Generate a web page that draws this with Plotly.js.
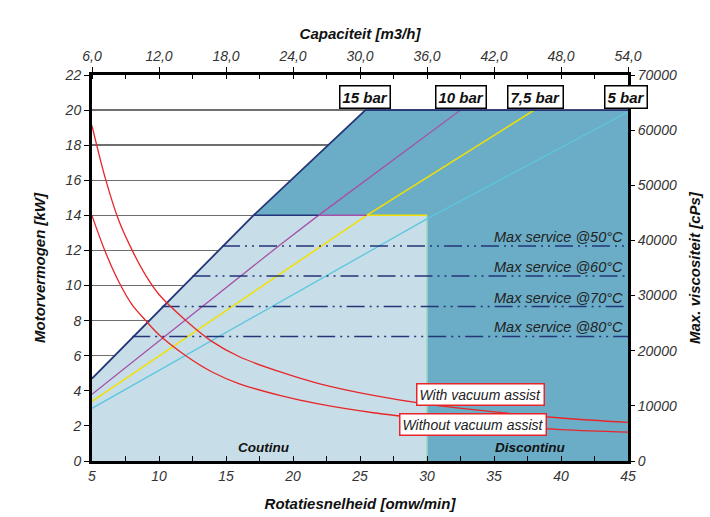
<!DOCTYPE html>
<html>
<head>
<meta charset="utf-8">
<script src="https://cdn.plot.ly/plotly-3.0.1.min.js"></script>
<style>html,body{margin:0;padding:0;background:#fff;}#chart{width:710px;height:517px;}</style>
</head>
<body>
<div id="chart"></div>
<script>
// Pressure lines (rotatiesnelheid [omw/min] vs motorvermogen [kW])
const bar15X = [5, 17.05, 25.4, 45];
const bar15Y = [4.7, 14, 20, 20];
const bar10X = [5, 19, 21.9, 32.5, 45];
const bar10Y = [3.8, 12.3, 14, 20, 20];
const bar75X = [5, 25.5, 38, 45];
const bar75Y = [3.4, 14, 20, 20];
const bar5X = [5, 30, 45];
const bar5Y = [3.0, 13.8, 19.9];

// Continuous power cap (14 kW) segments
const cap15X = [17.05, 21.9];
const cap10X = [21.9, 25.5];
const cap75X = [25.5, 30];
const capY = [14, 14];

// Regions
const contX = [5, 5, 17.05, 30, 30];
const contY = [0, 4.7, 14, 14, 0];
const discX = [17.05, 25.4, 45, 45, 30, 30];
const discY = [14, 20, 20, 0, 0, 14];
const borderX = [30, 30];
const borderY = [0, 14];

// Max service lines
const serviceLabels = ["Max service @50°C", "Max service @60°C", "Max service @70°C", "Max service @80°C"];
const serviceY = [12.25, 10.55, 8.8, 7.1];
const serviceStartX = [14.7, 12.5, 10.2, 8.0];
const serviceEndX = 45;

// Viscosity curves [cPs]
const viscX = [5, 6, 7, 8, 9, 10, 12, 14, 16, 19, 22, 26, 30, 35, 40, 45];
const withVacuum = [60800, 51200, 43600, 38200, 33700, 30200, 25500, 21600, 18900, 16200, 14000, 11900, 10300, 8900, 7800, 7000];
const withoutVacuum = [44500, 37900, 32500, 28300, 25500, 22900, 19100, 16100, 14000, 11900, 10300, 8750, 7650, 6500, 5700, 5250];

// Labels
const barLabels = ["15 bar", "10 bar", "7,5 bar", "5 bar"];
const barLabelX = [25.4, 32.5, 38.1, 44.85];
const capacityRange = [6, 54];

const FONT = "Liberation Sans, Arial, sans-serif";
const navy = "#243578", purple = "#a651a8", yellow = "#f2e000", cyan = "#5cc6df", red = "#e8262a";

const traces = [
  {x: contX, y: contY, fill: "toself", fillcolor: "#c7dee8", mode: "lines", line: {width: 0}, hoverinfo: "skip"},
  {x: discX, y: discY, fill: "toself", fillcolor: "#6badc7", mode: "lines", line: {width: 0}, hoverinfo: "skip"},
  {x: borderX, y: borderY, mode: "lines", line: {color: "#9fd6bd", width: 1.5}},
  {x: bar5X, y: bar5Y, mode: "lines", line: {color: cyan, width: 1.3}},
  {x: bar75X, y: bar75Y, mode: "lines", line: {color: yellow, width: 1.5}},
  {x: bar10X, y: bar10Y, mode: "lines", line: {color: purple, width: 1.3}},
  {x: cap75X, y: capY, mode: "lines", line: {color: yellow, width: 1.5}},
  {x: cap10X, y: capY, mode: "lines", line: {color: purple, width: 1.5}},
  {x: cap15X, y: capY, mode: "lines", line: {color: navy, width: 1.5}},
  {x: bar15X, y: bar15Y, mode: "lines", line: {color: navy, width: 1.8}},
];
serviceY.forEach((v, i) => {
  traces.push({x: [serviceStartX[i], serviceEndX], y: [v, v], mode: "lines",
    line: {color: navy, width: 1.5, dash: "18px,5px,2px,5px,2px,5px"}});
});
traces.push({x: viscX, y: withVacuum, yaxis: "y2", mode: "lines", line: {color: red, width: 1.3, shape: "spline"}});
traces.push({x: viscX, y: withoutVacuum, yaxis: "y2", mode: "lines", line: {color: red, width: 1.3, shape: "spline"}});
traces.push({x: capacityRange, y: [null, null], xaxis: "x2", mode: "lines", hoverinfo: "skip"});

const tickFont = {family: FONT, size: 14, color: "#333", style: "italic"};
const titleFont = {family: FONT, size: 15, color: "#111", style: "italic", weight: "bold"};

const annotations = [];
barLabels.forEach((t, i) => annotations.push({
  x: barLabelX[i], y: 20.75, xref: "x", yref: "y", text: t, showarrow: false,
  font: {family: FONT, size: 15, color: "#111", style: "italic", weight: "bold"},
  bgcolor: "#fff", bordercolor: "#000", borderwidth: 1.5, borderpad: 2
}));
serviceLabels.forEach((t, i) => annotations.push({
  x: 44.8, y: serviceY[i], xref: "x", yref: "y", text: t, showarrow: false,
  xanchor: "right", yanchor: "bottom", yshift: -1,
  font: {family: FONT, size: 14.5, color: "#222", style: "italic"}
}));
annotations.push({x: 33.96, y: 3.8, xref: "x", yref: "y", text: "With vacuum assist", showarrow: false,
  font: {family: FONT, size: 14, color: "#222", style: "italic"}, bgcolor: "#fff", bordercolor: red, borderwidth: 1.5, borderpad: 2});
annotations.push({x: 33.4, y: 2.1, xref: "x", yref: "y", text: "Without vacuum assist", showarrow: false,
  font: {family: FONT, size: 14, color: "#222", style: "italic"}, bgcolor: "#fff", bordercolor: red, borderwidth: 1.5, borderpad: 2});
annotations.push({x: 17.8, y: 0.75, xref: "x", yref: "y", text: "Coutinu", showarrow: false,
  font: {family: FONT, size: 13.5, color: "#111", style: "italic", weight: "bold"}});
annotations.push({x: 37.7, y: 0.75, xref: "x", yref: "y", text: "Discontinu", showarrow: false,
  font: {family: FONT, size: 13.5, color: "#111", style: "italic", weight: "bold"}});

const layout = {
  width: 710, height: 517,
  margin: {l: 92, r: 82, t: 75, b: 56},
  paper_bgcolor: "#fff", plot_bgcolor: "#fff",
  showlegend: false,
  separators: ",.",
  font: {family: FONT},
  xaxis: {
    range: [5, 45], dtick: 5, tick0: 5, showgrid: false, zeroline: false,
    showline: true, linecolor: "#000", linewidth: 3,
    ticks: "inside", ticklen: 5, tickcolor: "#000",
    minor: {dtick: 2.5, ticks: "inside", ticklen: 5, tickcolor: "#000"},
    tickfont: tickFont,
    title: {text: "Rotatiesnelheid [omw/min]", font: titleFont, standoff: 16}
  },
  xaxis2: {
    overlaying: "x", side: "top", range: [6, 54], dtick: 6, tick0: 6, tickformat: ".1f",
    showgrid: false, zeroline: false, showline: true, linecolor: "#000", linewidth: 3,
    ticks: "outside", ticklen: 5, tickcolor: "#000",
    minor: {dtick: 3, ticks: "inside", ticklen: 4, tickcolor: "#000"},
    tickfont: tickFont,
    title: {text: "Capaciteit [m3/h]", font: titleFont, standoff: 6}
  },
  yaxis: {
    range: [0, 22], dtick: 2, showgrid: true, gridcolor: "#6e6e6e", gridwidth: 1.5,
    zeroline: false, showline: true, linecolor: "#000", linewidth: 3,
    ticks: "outside", ticklen: 5, tickcolor: "#000",
    tickfont: tickFont,
    title: {text: "Motorvermogen [kW]", font: titleFont, standoff: 16}
  },
  yaxis2: {
    overlaying: "y", side: "right", range: [0, 70000], dtick: 10000, tickformat: "d",
    showgrid: false, zeroline: false, showline: true, linecolor: "#000", linewidth: 3,
    ticks: "outside", ticklen: 4, tickcolor: "#000",
    tickfont: tickFont,
    title: {text: "Max. viscositeit [cPs]", font: titleFont, standoff: 14}
  },
  annotations: annotations
};

Plotly.newPlot("chart", traces, layout, {displayModeBar: false, staticPlot: true});
</script>
</body>
</html>
